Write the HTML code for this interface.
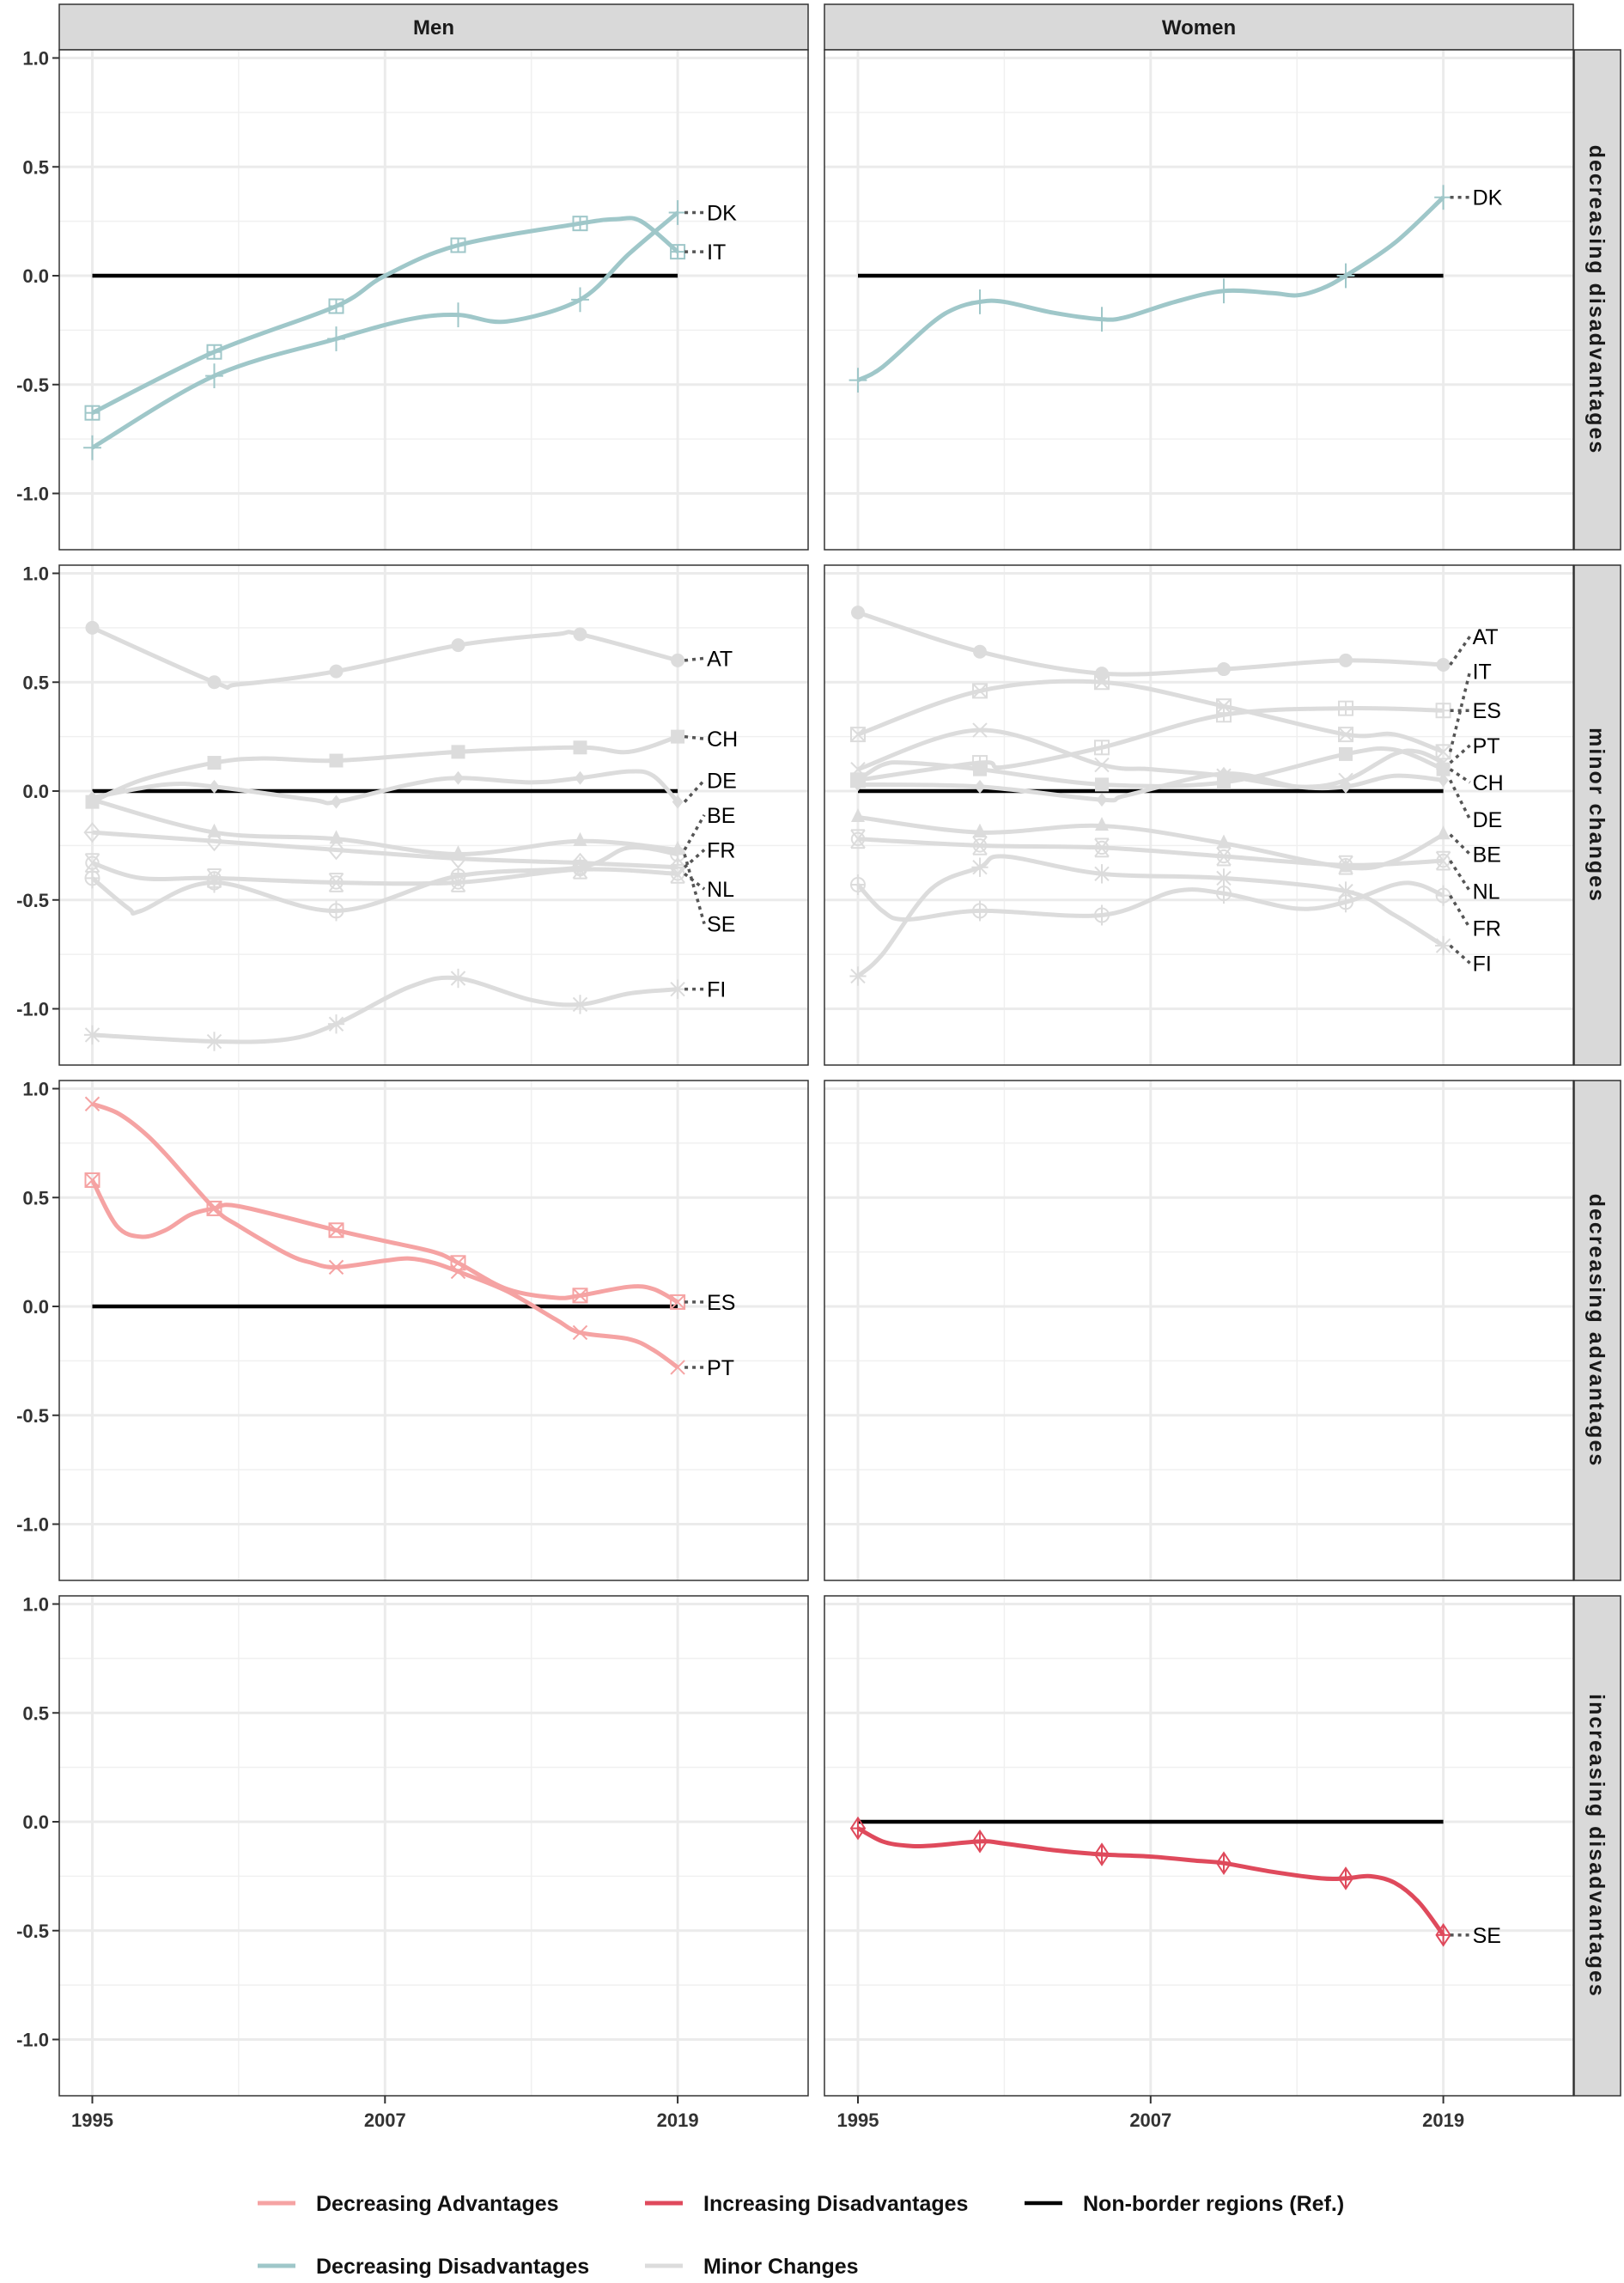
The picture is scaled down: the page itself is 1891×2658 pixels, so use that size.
<!DOCTYPE html>
<html><head><meta charset="utf-8"><style>
html,body{margin:0;padding:0;background:#fff;}
svg{display:block;font-family:"Liberation Sans",sans-serif;}
</style></head><body>
<svg id="chart" width="1891" height="2658" viewBox="0 0 1891 2658" xmlns="http://www.w3.org/2000/svg"></svg>
<script>
// ---- data ----
const facetCols = ["Men","Women"];
const facetRows = ["decreasing disadvantages","minor changes","decreasing advantages","increasing disadvantages"];
const yTicks = [1.0,0.5,0.0,-0.5,-1.0];
const yTickLabels = ["1.0","0.5","0.0","-0.5","-1.0"];
const xTicks = [1995,2007,2019];
const xMinor = [2001,2013];
const yMinor = [0.75,0.25,-0.25,-0.75];
const markerYears = [1995,2000,2005,2010,2015,2019];

// row 0 decreasing disadvantages
const m0_IT_years=[1995,2000,2005,2007,2010,2015,2016.5,2017.5,2019];
const m0_IT_vals=[-0.63,-0.35,-0.14,0.0,0.14,0.24,0.26,0.25,0.11];
const m0_DK_years=[1995,2000,2005,2008,2010,2012,2015,2017,2019];
const m0_DK_vals=[-0.79,-0.46,-0.29,-0.2,-0.18,-0.21,-0.11,0.1,0.29];
const w0_DK_years=[1995,1996,1998,1999,2000,2001,2003,2005,2006,2008,2010,2012,2013,2014,2015,2017,2019];
const w0_DK_vals=[-0.48,-0.42,-0.22,-0.15,-0.12,-0.12,-0.17,-0.2,-0.19,-0.12,-0.07,-0.08,-0.09,-0.06,0,0.15,0.36];

// row 1 minor changes (men)
const m1_AT_years=[1995,2000,2001,2005,2010,2014,2015,2019];
const m1_AT_vals=[0.75,0.5,0.49,0.55,0.67,0.72,0.72,0.6];
const m1_CH_years=[1995,1997,2000,2002,2005,2010,2015,2017,2019];
const m1_CH_vals=[-0.05,0.05,0.13,0.15,0.14,0.18,0.2,0.18,0.25];
const m1_DE_years=[1995,1998,2000,2004,2005,2008,2010,2013,2015,2017,2018,2019];
const m1_DE_vals=[-0.03,0.03,0.02,-0.04,-0.05,0.03,0.06,0.04,0.06,0.09,0.07,-0.05];
const m1_BE_years=[1995,2000,2005,2010,2015,2019];
const m1_BE_vals=[-0.04,-0.19,-0.22,-0.29,-0.23,-0.27];
const m1_FR_years=[1995,2000,2005,2010,2015,2019];
const m1_FR_vals=[-0.19,-0.23,-0.27,-0.31,-0.33,-0.35];
const m1_SE_years=[1995,1996.5,1997,2000,2005,2010,2015,2017,2019];
const m1_SE_vals=[-0.4,-0.54,-0.55,-0.42,-0.55,-0.39,-0.35,-0.26,-0.29];
const m1_NL_years=[1995,1997,2000,2005,2010,2015,2019];
const m1_NL_vals=[-0.33,-0.4,-0.4,-0.42,-0.42,-0.36,-0.38];
const m1_FI_years=[1995,2000,2003,2005,2008,2010,2013,2015,2017,2019];
const m1_FI_vals=[-1.12,-1.15,-1.14,-1.07,-0.9,-0.86,-0.96,-0.98,-0.93,-0.91];

// row 1 minor changes (women)
const w1_AT_years=[1995,2000,2005,2010,2015,2019];
const w1_AT_vals=[0.82,0.64,0.54,0.56,0.6,0.58];
const w1_IT_years=[1995,2000,2005,2010,2015,2017,2019];
const w1_IT_vals=[0.26,0.46,0.5,0.39,0.26,0.26,0.18];
const w1_ES_years=[1995,2000,2001,2005,2010,2015,2019];
const w1_ES_vals=[0.05,0.13,0.11,0.2,0.35,0.38,0.37];
const w1_PT_years=[1995,2000,2005,2007,2010,2013,2015,2017,2018,2019];
const w1_PT_vals=[0.1,0.28,0.12,0.1,0.07,0.02,0.05,0.17,0.18,0.13];
const w1_CH_years=[1995,1996,1997,2000,2005,2010,2015,2017,2019];
const w1_CH_vals=[0.05,0.12,0.13,0.1,0.03,0.04,0.17,0.19,0.1];
const w1_DE_years=[1995,2000,2005,2006,2010,2013,2015,2017,2019];
const w1_DE_vals=[0.03,0.02,-0.04,-0.02,0.08,0.02,0.02,0.07,0.05];
const w1_BE_years=[1995,2000,2005,2010,2015,2017,2019];
const w1_BE_vals=[-0.12,-0.19,-0.16,-0.24,-0.35,-0.32,-0.2];
const w1_NL_years=[1995,2000,2005,2010,2015,2019];
const w1_NL_vals=[-0.22,-0.25,-0.26,-0.3,-0.34,-0.32];
const w1_FR_years=[1995,1996,1997,2000,2005,2008,2010,2013,2015,2017,2018,2019];
const w1_FR_vals=[-0.43,-0.55,-0.59,-0.55,-0.57,-0.46,-0.47,-0.54,-0.51,-0.43,-0.43,-0.48];
const w1_FI_years=[1995,1996,1998,2000,2001,2005,2010,2015,2017,2019];
const w1_FI_vals=[-0.85,-0.75,-0.45,-0.35,-0.3,-0.38,-0.4,-0.46,-0.57,-0.71];

// row 2 decreasing advantages (men)
const m2_PT_years=[1995,1996,1997,1998,2000,2001,2003,2004,2005,2007,2008,2009,2010,2012,2014,2015,2017,2018,2019];
const m2_PT_vals=[0.93,0.89,0.81,0.7,0.45,0.37,0.24,0.2,0.18,0.21,0.22,0.2,0.16,0.07,-0.06,-0.12,-0.15,-0.2,-0.28];
const m2_ES_years=[1995,1996,1997,1998,1999,2000,2001,2005,2007,2009,2010,2012,2014,2015,2017,2018,2019];
const m2_ES_vals=[0.58,0.37,0.32,0.35,0.42,0.45,0.46,0.35,0.3,0.25,0.2,0.08,0.04,0.05,0.09,0.08,0.02];

// row 3 increasing disadvantages (women)
const w3_SE_years=[1995,1996,1997,1998,2000,2001,2003,2005,2007,2009,2010,2012,2014,2015,2016,2017,2018,2019];
const w3_SE_vals=[-0.03,-0.09,-0.11,-0.11,-0.09,-0.1,-0.13,-0.15,-0.16,-0.18,-0.19,-0.23,-0.26,-0.26,-0.25,-0.28,-0.37,-0.52];

// label positions (value space) for repelled labels
const m1_labelVals=[0.61,0.24,0.05,-0.11,-0.27,-0.45,-0.61,-0.91];
const w1_labelVals=[0.71,0.55,0.37,0.21,0.04,-0.13,-0.29,-0.46,-0.63,-0.79];

const C_TEAL="#9fc7c9", C_GRAY="#dcdcdc", C_PINK="#f5a3a3", C_RED="#df4a5c";

const series=[
 {row:0,col:0,name:"IT",years:m0_IT_years,vals:m0_IT_vals,color:C_TEAL,m:"sqplus",lab:0.11},
 {row:0,col:0,name:"DK",years:m0_DK_years,vals:m0_DK_vals,color:C_TEAL,m:"plus",lab:0.29},
 {row:0,col:1,name:"DK",years:w0_DK_years,vals:w0_DK_vals,color:C_TEAL,m:"plus",lab:0.36},
 {row:1,col:0,name:"AT",years:m1_AT_years,vals:m1_AT_vals,color:C_GRAY,m:"circle",lab:m1_labelVals[0]},
 {row:1,col:0,name:"CH",years:m1_CH_years,vals:m1_CH_vals,color:C_GRAY,m:"square",lab:m1_labelVals[1]},
 {row:1,col:0,name:"DE",years:m1_DE_years,vals:m1_DE_vals,color:C_GRAY,m:"diamond",lab:m1_labelVals[2]},
 {row:1,col:0,name:"BE",years:m1_BE_years,vals:m1_BE_vals,color:C_GRAY,m:"tri",lab:m1_labelVals[3]},
 {row:1,col:0,name:"FR",years:m1_FR_years,vals:m1_FR_vals,color:C_GRAY,m:"odiamond",lab:m1_labelVals[4]},
 {row:1,col:0,name:"NL",years:m1_NL_years,vals:m1_NL_vals,color:C_GRAY,m:"hourglass",lab:m1_labelVals[5]},
 {row:1,col:0,name:"SE",years:m1_SE_years,vals:m1_SE_vals,color:C_GRAY,m:"cplus",lab:m1_labelVals[6]},
 {row:1,col:0,name:"FI",years:m1_FI_years,vals:m1_FI_vals,color:C_GRAY,m:"star",lab:m1_labelVals[7]},
 {row:1,col:1,name:"AT",years:w1_AT_years,vals:w1_AT_vals,color:C_GRAY,m:"circle",lab:w1_labelVals[0]},
 {row:1,col:1,name:"IT",years:w1_IT_years,vals:w1_IT_vals,color:C_GRAY,m:"sqx",lab:w1_labelVals[1]},
 {row:1,col:1,name:"ES",years:w1_ES_years,vals:w1_ES_vals,color:C_GRAY,m:"sqplus",lab:w1_labelVals[2]},
 {row:1,col:1,name:"PT",years:w1_PT_years,vals:w1_PT_vals,color:C_GRAY,m:"x",lab:w1_labelVals[3]},
 {row:1,col:1,name:"CH",years:w1_CH_years,vals:w1_CH_vals,color:C_GRAY,m:"square",lab:w1_labelVals[4]},
 {row:1,col:1,name:"DE",years:w1_DE_years,vals:w1_DE_vals,color:C_GRAY,m:"diamond",lab:w1_labelVals[5]},
 {row:1,col:1,name:"BE",years:w1_BE_years,vals:w1_BE_vals,color:C_GRAY,m:"tri",lab:w1_labelVals[6]},
 {row:1,col:1,name:"NL",years:w1_NL_years,vals:w1_NL_vals,color:C_GRAY,m:"hourglass",lab:w1_labelVals[7]},
 {row:1,col:1,name:"FR",years:w1_FR_years,vals:w1_FR_vals,color:C_GRAY,m:"cplus",lab:w1_labelVals[8]},
 {row:1,col:1,name:"FI",years:w1_FI_years,vals:w1_FI_vals,color:C_GRAY,m:"star",lab:w1_labelVals[9]},
 {row:2,col:0,name:"ES",years:m2_ES_years,vals:m2_ES_vals,color:C_PINK,m:"sqx",lab:0.02},
 {row:2,col:0,name:"PT",years:m2_PT_years,vals:m2_PT_vals,color:C_PINK,m:"x",lab:-0.28},
 {row:3,col:1,name:"SE",years:w3_SE_years,vals:w3_SE_vals,color:C_RED,m:"dplus",lab:-0.52},
];
const refPanels=[[0,0],[0,1],[1,0],[1,1],[2,0],[3,1]];

// ---- layout ----
const colLeft=[69,960], colW=872, rowTop0=58, rowPitch=600, rowH=582;
const stripX=1833, stripW=54;
function xS(col,yr){return [107.5,999][col]+(yr-1995)*28.4;}
function yS(row,v){return 321+rowPitch*row - v*253.5;}

const svg=document.getElementById('chart');
const NS="http://www.w3.org/2000/svg";
function el(tag,attrs,parent){const e=document.createElementNS(NS,tag);for(const k in attrs)e.setAttribute(k,attrs[k]);(parent||svg).appendChild(e);return e;}

// column strips
facetCols.forEach((c,ci)=>{
  const g=el('g',{});
  
  
  el('rect',{x:colLeft[ci],y:5,width:colW,height:53,fill:'#d9d9d9',stroke:'#333','stroke-width':1.5},g);
  const t=el('text',{x:colLeft[ci]+colW/2,y:40,'text-anchor':'middle','font-size':24,'font-weight':'bold',fill:'#1a1a1a'},g);
  t.textContent=c;
});

for(let r=0;r<4;r++){
  const top=rowTop0+rowPitch*r;
  const sg=el('g',{});
  
  
  el('rect',{x:stripX,y:top,width:stripW,height:rowH,fill:'#d9d9d9',stroke:'#333','stroke-width':1.5},sg);
  const st=el('text',{x:0,y:0,'text-anchor':'middle','font-size':25,'font-weight':'bold',fill:'#1a1a1a','letter-spacing':'2',transform:`translate(${stripX+stripW/2-9},${top+rowH/2}) rotate(90)`},sg);
  st.textContent=facetRows[r];
  yTicks.forEach((v,i)=>{
    const yy=yS(r,v);
    const tk=el('line',{x1:61,x2:69,y1:yy,y2:yy,stroke:'#333','stroke-width':2});
    
    
    const tl=el('text',{x:57,y:yy+8,'text-anchor':'end','font-size':22,'font-weight':'bold',fill:'#333'});
    
    
    tl.textContent=yTickLabels[i];
  });
  for(let c=0;c<2;c++){
    const pg=el('g',{});
    
    
    el('rect',{x:colLeft[c],y:top,width:colW,height:rowH,fill:'#fff'},pg);
    const clip=el('clipPath',{id:`cp${r}${c}`},pg);
    el('rect',{x:colLeft[c],y:top,width:colW,height:rowH},clip);
    yMinor.forEach(v=>el('line',{x1:colLeft[c],x2:colLeft[c]+colW,y1:yS(r,v),y2:yS(r,v),stroke:'#f0f0f0','stroke-width':1.5},pg));
    xMinor.forEach(yr=>el('line',{x1:xS(c,yr),x2:xS(c,yr),y1:top,y2:top+rowH,stroke:'#f0f0f0','stroke-width':1.5},pg));
    yTicks.forEach(v=>el('line',{x1:colLeft[c],x2:colLeft[c]+colW,y1:yS(r,v),y2:yS(r,v),stroke:'#ebebeb','stroke-width':3},pg));
    xTicks.forEach(yr=>el('line',{x1:xS(c,yr),x2:xS(c,yr),y1:top,y2:top+rowH,stroke:'#ebebeb','stroke-width':3},pg));
    el('g',{id:`pl${r}${c}`,'clip-path':`url(#cp${r}${c})`},pg);
  }
}

function spline(pts){
  let d=`M${pts[0][0]},${pts[0][1]}`;
  for(let i=0;i<pts.length-1;i++){
    const p0=pts[i-1]||pts[i],p1=pts[i],p2=pts[i+1],p3=pts[i+2]||p2;
    const c1=[p1[0]+(p2[0]-p0[0])/6,p1[1]+(p2[1]-p0[1])/6];
    const c2=[p2[0]-(p3[0]-p1[0])/6,p2[1]-(p3[1]-p1[1])/6];
    d+=`C${c1[0]},${c1[1]} ${c2[0]},${c2[1]} ${p2[0]},${p2[1]}`;
  }
  return d;
}
function marker(g,type,x,y,col){
  const s=8,a={fill:'none',stroke:col,'stroke-width':2};
  const L=(x1,y1,x2,y2)=>el('line',Object.assign({x1,y1,x2,y2},a),g);
  switch(type){
    case 'plus':L(x-s*1.3,y,x+s*1.3,y);L(x,y-s*1.8,x,y+s*1.8);break;
    case 'x':L(x-s,y-s,x+s,y+s);L(x-s,y+s,x+s,y-s);break;
    case 'star':L(x-s,y-s,x+s,y+s);L(x-s,y+s,x+s,y-s);L(x,y-s*1.4,x,y+s*1.4);L(x-s*1.2,y,x+s*1.2,y);break;
    case 'sqplus':el('rect',Object.assign({x:x-s,y:y-s,width:2*s,height:2*s},a),g);L(x-s,y,x+s,y);L(x,y-s,x,y+s);break;
    case 'sqx':el('rect',Object.assign({x:x-s,y:y-s,width:2*s,height:2*s},a),g);L(x-s,y-s,x+s,y+s);L(x-s,y+s,x+s,y-s);break;
    case 'circle':el('circle',{cx:x,cy:y,r:s,fill:col},g);break;
    case 'square':el('rect',{x:x-s,y:y-s,width:2*s,height:2*s,fill:col},g);break;
    case 'diamond':el('polygon',{points:`${x},${y-s} ${x+s*0.8},${y} ${x},${y+s} ${x-s*0.8},${y}`,fill:col},g);break;
    case 'tri':el('polygon',{points:`${x},${y-s*1.3} ${x+s},${y+s*0.7} ${x-s},${y+s*0.7}`,fill:col},g);break;
    case 'odiamond':el('polygon',Object.assign({points:`${x},${y-s*1.3} ${x+s*1.1},${y} ${x},${y+s*1.3} ${x-s*1.1},${y}`},a),g);L(x-s*1.1,y,x+s*1.1,y);break;
    case 'dplus':el('polygon',Object.assign({points:`${x},${y-s*1.5} ${x+s},${y} ${x},${y+s*1.5} ${x-s},${y}`},a),g);L(x-s,y,x+s,y);L(x,y-s*1.5,x,y+s*1.5);break;
    case 'cplus':el('circle',Object.assign({cx:x,cy:y,r:s},a),g);L(x-s,y,x+s,y);L(x,y-s*1.5,x,y+s*1.5);break;
    case 'hourglass':el('circle',Object.assign({cx:x,cy:y,r:s*0.9},a),g);L(x-s,y-s*1.3,x+s,y-s*1.3);L(x-s,y+s*1.3,x+s,y+s*1.3);L(x-s,y-s*1.3,x+s,y+s*1.3);L(x+s,y-s*1.3,x-s,y+s*1.3);break;
  }
}

refPanels.forEach(([r,c])=>{
  const ln=el('line',{x1:xS(c,1995),x2:xS(c,2019),y1:yS(r,0),y2:yS(r,0),stroke:'#000','stroke-width':4.5},document.getElementById(`pl${r}${c}`));
  
  
});

series.forEach(sr=>{
  const g=el('g',{},document.getElementById(`pl${sr.row}${sr.col}`));
  
  
  const pts=sr.years.map((y,i)=>[xS(sr.col,y),yS(sr.row,sr.vals[i])]);
  el('path',{d:spline(pts),fill:'none',stroke:sr.color,'stroke-width':5,'stroke-linejoin':'round'},g);
  sr.years.forEach((y,i)=>{ if(markerYears.includes(y)) marker(g,sr.m,pts[i][0],pts[i][1],sr.color); });
  const ex=pts[pts.length-1][0], ey=pts[pts.length-1][1];
  const lx=ex+34, ly=yS(sr.row,sr.lab);
  const cn=el('line',{x1:ex+8,y1:ey,x2:lx-3,y2:ly,stroke:'#555','stroke-width':3.5,'stroke-dasharray':'4 5'});
  
  
  const t=el('text',{x:lx,y:ly+9,'font-size':25,fill:'#000'});
  
  
  t.textContent=sr.name;
});

for(let r=0;r<4;r++)for(let c=0;c<2;c++){
  el('rect',{x:colLeft[c],y:rowTop0+rowPitch*r,width:colW,height:rowH,fill:'none',stroke:'#333','stroke-width':1.5});
}
for(let c=0;c<2;c++){
  xTicks.forEach(yr=>{
    const tk=el('line',{x1:xS(c,yr),x2:xS(c,yr),y1:2440,y2:2449,stroke:'#333','stroke-width':2});
    
    
    const t=el('text',{x:xS(c,yr),y:2476,'text-anchor':'middle','font-size':22,'font-weight':'bold',fill:'#333'});
    
    
    t.textContent=String(yr);
  });
}
const legendNames=["Decreasing Advantages","Increasing Disadvantages","Non-border regions (Ref.)","Decreasing Disadvantages","Minor Changes"];
const legendColors=[C_PINK,C_RED,"#000",C_TEAL,C_GRAY];
const legendPos=[[300,2565],[751,2565],[1193,2565],[300,2638],[751,2638]];
legendNames.forEach((n,i)=>{
  const g=el('g',{});
  
  
  const [x,y]=legendPos[i];
  el('line',{x1:x,x2:x+44,y1:y,y2:y,stroke:legendColors[i],'stroke-width':i==2?4.5:5},g);
  const t=el('text',{x:x+68,y:y+9,'font-size':25,'font-weight':'bold',fill:'#111'},g);
  t.textContent=n;
});
</script>
</body></html>
